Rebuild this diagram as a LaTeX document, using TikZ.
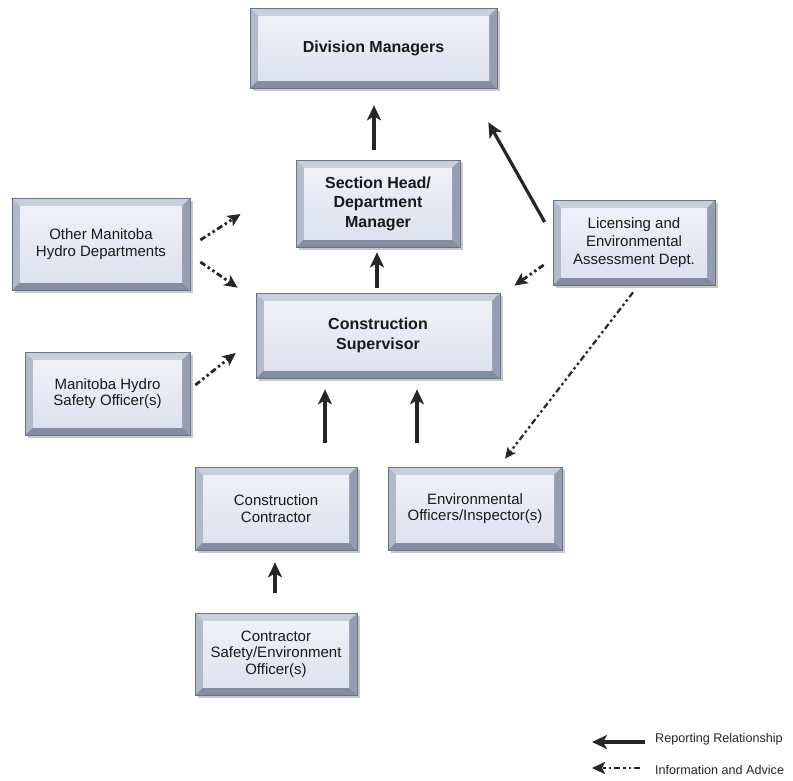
\documentclass[tikz,border=0pt]{standalone}
\usepackage{fontspec}
\setmainfont{Liberation Sans}
\usetikzlibrary{arrows.meta,shadows}
\definecolor{face}{HTML}{DDE2F0}
\definecolor{facetop}{HTML}{EFF1F8}
\definecolor{bvtop}{HTML}{C9D0DD}
\definecolor{bvleft}{HTML}{B1BACB}
\definecolor{bvright}{HTML}{949EB0}
\definecolor{bvbot}{HTML}{848D9F}
\definecolor{outl}{HTML}{6B7485}
\definecolor{arrc}{HTML}{262626}
\def\bvl{8pt}
\tikzset{
  box/.style={rectangle, draw=outl, line width=0.7pt, fill=bvleft, inner sep=0pt,
    align=center, text=black!90,
    drop shadow={shadow xshift=3pt, shadow yshift=-3pt, opacity=0.3, fill=black!70},
    path picture={
      \fill[bvtop] (path picture bounding box.north west) -- (path picture bounding box.north east)
        -- ([xshift=-\bvl,yshift=-\bvl]path picture bounding box.north east)
        -- ([xshift=\bvl,yshift=-\bvl]path picture bounding box.north west) -- cycle;
      \fill[bvbot] (path picture bounding box.south west) -- (path picture bounding box.south east)
        -- ([xshift=-\bvl,yshift=\bvl]path picture bounding box.south east)
        -- ([xshift=\bvl,yshift=\bvl]path picture bounding box.south west) -- cycle;
      \fill[bvleft] (path picture bounding box.north west) -- (path picture bounding box.south west)
        -- ([xshift=\bvl,yshift=\bvl]path picture bounding box.south west)
        -- ([xshift=\bvl,yshift=-\bvl]path picture bounding box.north west) -- cycle;
      \fill[bvright] (path picture bounding box.north east) -- (path picture bounding box.south east)
        -- ([xshift=-\bvl,yshift=\bvl]path picture bounding box.south east)
        -- ([xshift=-\bvl,yshift=-\bvl]path picture bounding box.north east) -- cycle;
      \shade[top color=facetop, bottom color=face]
        ([xshift=\bvl,yshift=-\bvl]path picture bounding box.north west) rectangle
        ([xshift=-\bvl,yshift=\bvl]path picture bounding box.south east);
    }},
  boldbox/.style={box, font=\fontsize{16}{19.5}\selectfont\bfseries},
  regbox/.style={box, font=\fontsize{15}{16.5}\selectfont},
  rep/.style={draw=arrc, line width=3.2pt, -{Stealth[length=15pt,width=14pt,inset=4pt]}},
  info/.style={draw=arrc, line width=2.8pt,
    dash pattern=on 6pt off 3pt on 2.5pt off 3pt on 2.5pt off 3pt,
    -{Stealth[length=13pt,width=12pt,inset=3pt]}},
  infothin/.style={info, line width=2.2pt, -{Stealth[length=11pt,width=10pt,inset=2.5pt]}},
  legtxt/.style={anchor=west, inner sep=0pt, font=\fontsize{12.6}{14}\selectfont, text=black!85}
}
\begin{document}
\begin{tikzpicture}[x=1pt,y=-1pt]
\useasboundingbox[fill=white] (0,0) rectangle (793,780);

% boxes
\node[boldbox, minimum width=247, minimum height=80] (dm) at (373.5,48) {Division Managers};
\node[boldbox, minimum width=164, minimum height=87] (sh) at (378,203.5) {Section Head/\\Department\\Manager};
\node[boldbox, minimum width=244, minimum height=85] (cs) at (378,335.5) {Construction\\Supervisor};
\node[regbox, minimum width=178, minimum height=92] (om) at (101,244) {Other Manitoba\\Hydro Departments};
\node[regbox, minimum width=165, minimum height=83] (ms) at (107.5,393.5) {Manitoba Hydro\\Safety Officer(s)};
\node[regbox, minimum width=162, minimum height=85, font=\fontsize{15}{18}\selectfont] (lic) at (634,242.5) {Licensing and\\Environmental\\Assessment Dept.};
\node[regbox, minimum width=162, minimum height=83] (cc) at (276,508.5) {Construction\\Contractor};
\node[regbox, minimum width=174, minimum height=83] (eo) at (475,508.5) {Environmental\\Officers/Inspector(s)};
\node[regbox, minimum width=162, minimum height=82] (cso) at (276,654) {Contractor\\Safety/Environment\\Officer(s)};

% reporting relationships
\draw[rep] ([xshift=-4pt,yshift=10pt]sh.north) -- ([xshift=0.5pt,yshift=-17pt]dm.south);
\draw[rep] ([xshift=-1pt,yshift=5pt]cs.north) -- ([xshift=-1pt,yshift=-5pt]sh.south);
\draw[rep] ([xshift=-8pt,yshift=20.5pt]lic.west) -- ([xshift=-9pt,yshift=-34pt]dm.south east);
\draw[rep] ([xshift=49pt,yshift=24pt]cc.north) -- ([xshift=-53pt,yshift=-11pt]cs.south);
\draw[rep] ([xshift=-58pt,yshift=24pt]eo.north) -- ([xshift=39pt,yshift=-11pt]cs.south);
\draw[rep] ([xshift=-1pt,yshift=20pt]cso.north) -- ([xshift=-1pt,yshift=-12pt]cc.south);

% information and advice
\draw[info] ([xshift=-9pt,yshift=-22.5pt]lic.west) -- ([xshift=14pt,yshift=7pt]cs.north east);
\draw[infothin] ([xshift=-1pt,yshift=-7pt]lic.south) -- ([xshift=30pt,yshift=8pt]eo.north);
\draw[info] ([xshift=10pt,yshift=4pt]om.east) -- ([xshift=-55pt,yshift=-10.5pt]sh.west);
\draw[info] ([xshift=10pt,yshift=-18pt]om.east) -- ([xshift=-18pt,yshift=5pt]cs.north west);
\draw[info] ([xshift=5pt,yshift=8.5pt]ms.east) -- ([xshift=-20pt,yshift=-17.5pt]cs.west);

% legend
\node[legtxt] (lr) at (655,739) {Reporting Relationship};
\node[legtxt] (li) at (655,770) {Information and Advice};
\coordinate (lrt) at (645,742);
\coordinate (lrh) at (592,742);
\coordinate (lit) at (640,768);
\coordinate (lih) at (592,768);
\draw[rep] (lrt) -- (lrh);
\draw[info] (lit) -- (lih);
\end{tikzpicture}
\end{document}
